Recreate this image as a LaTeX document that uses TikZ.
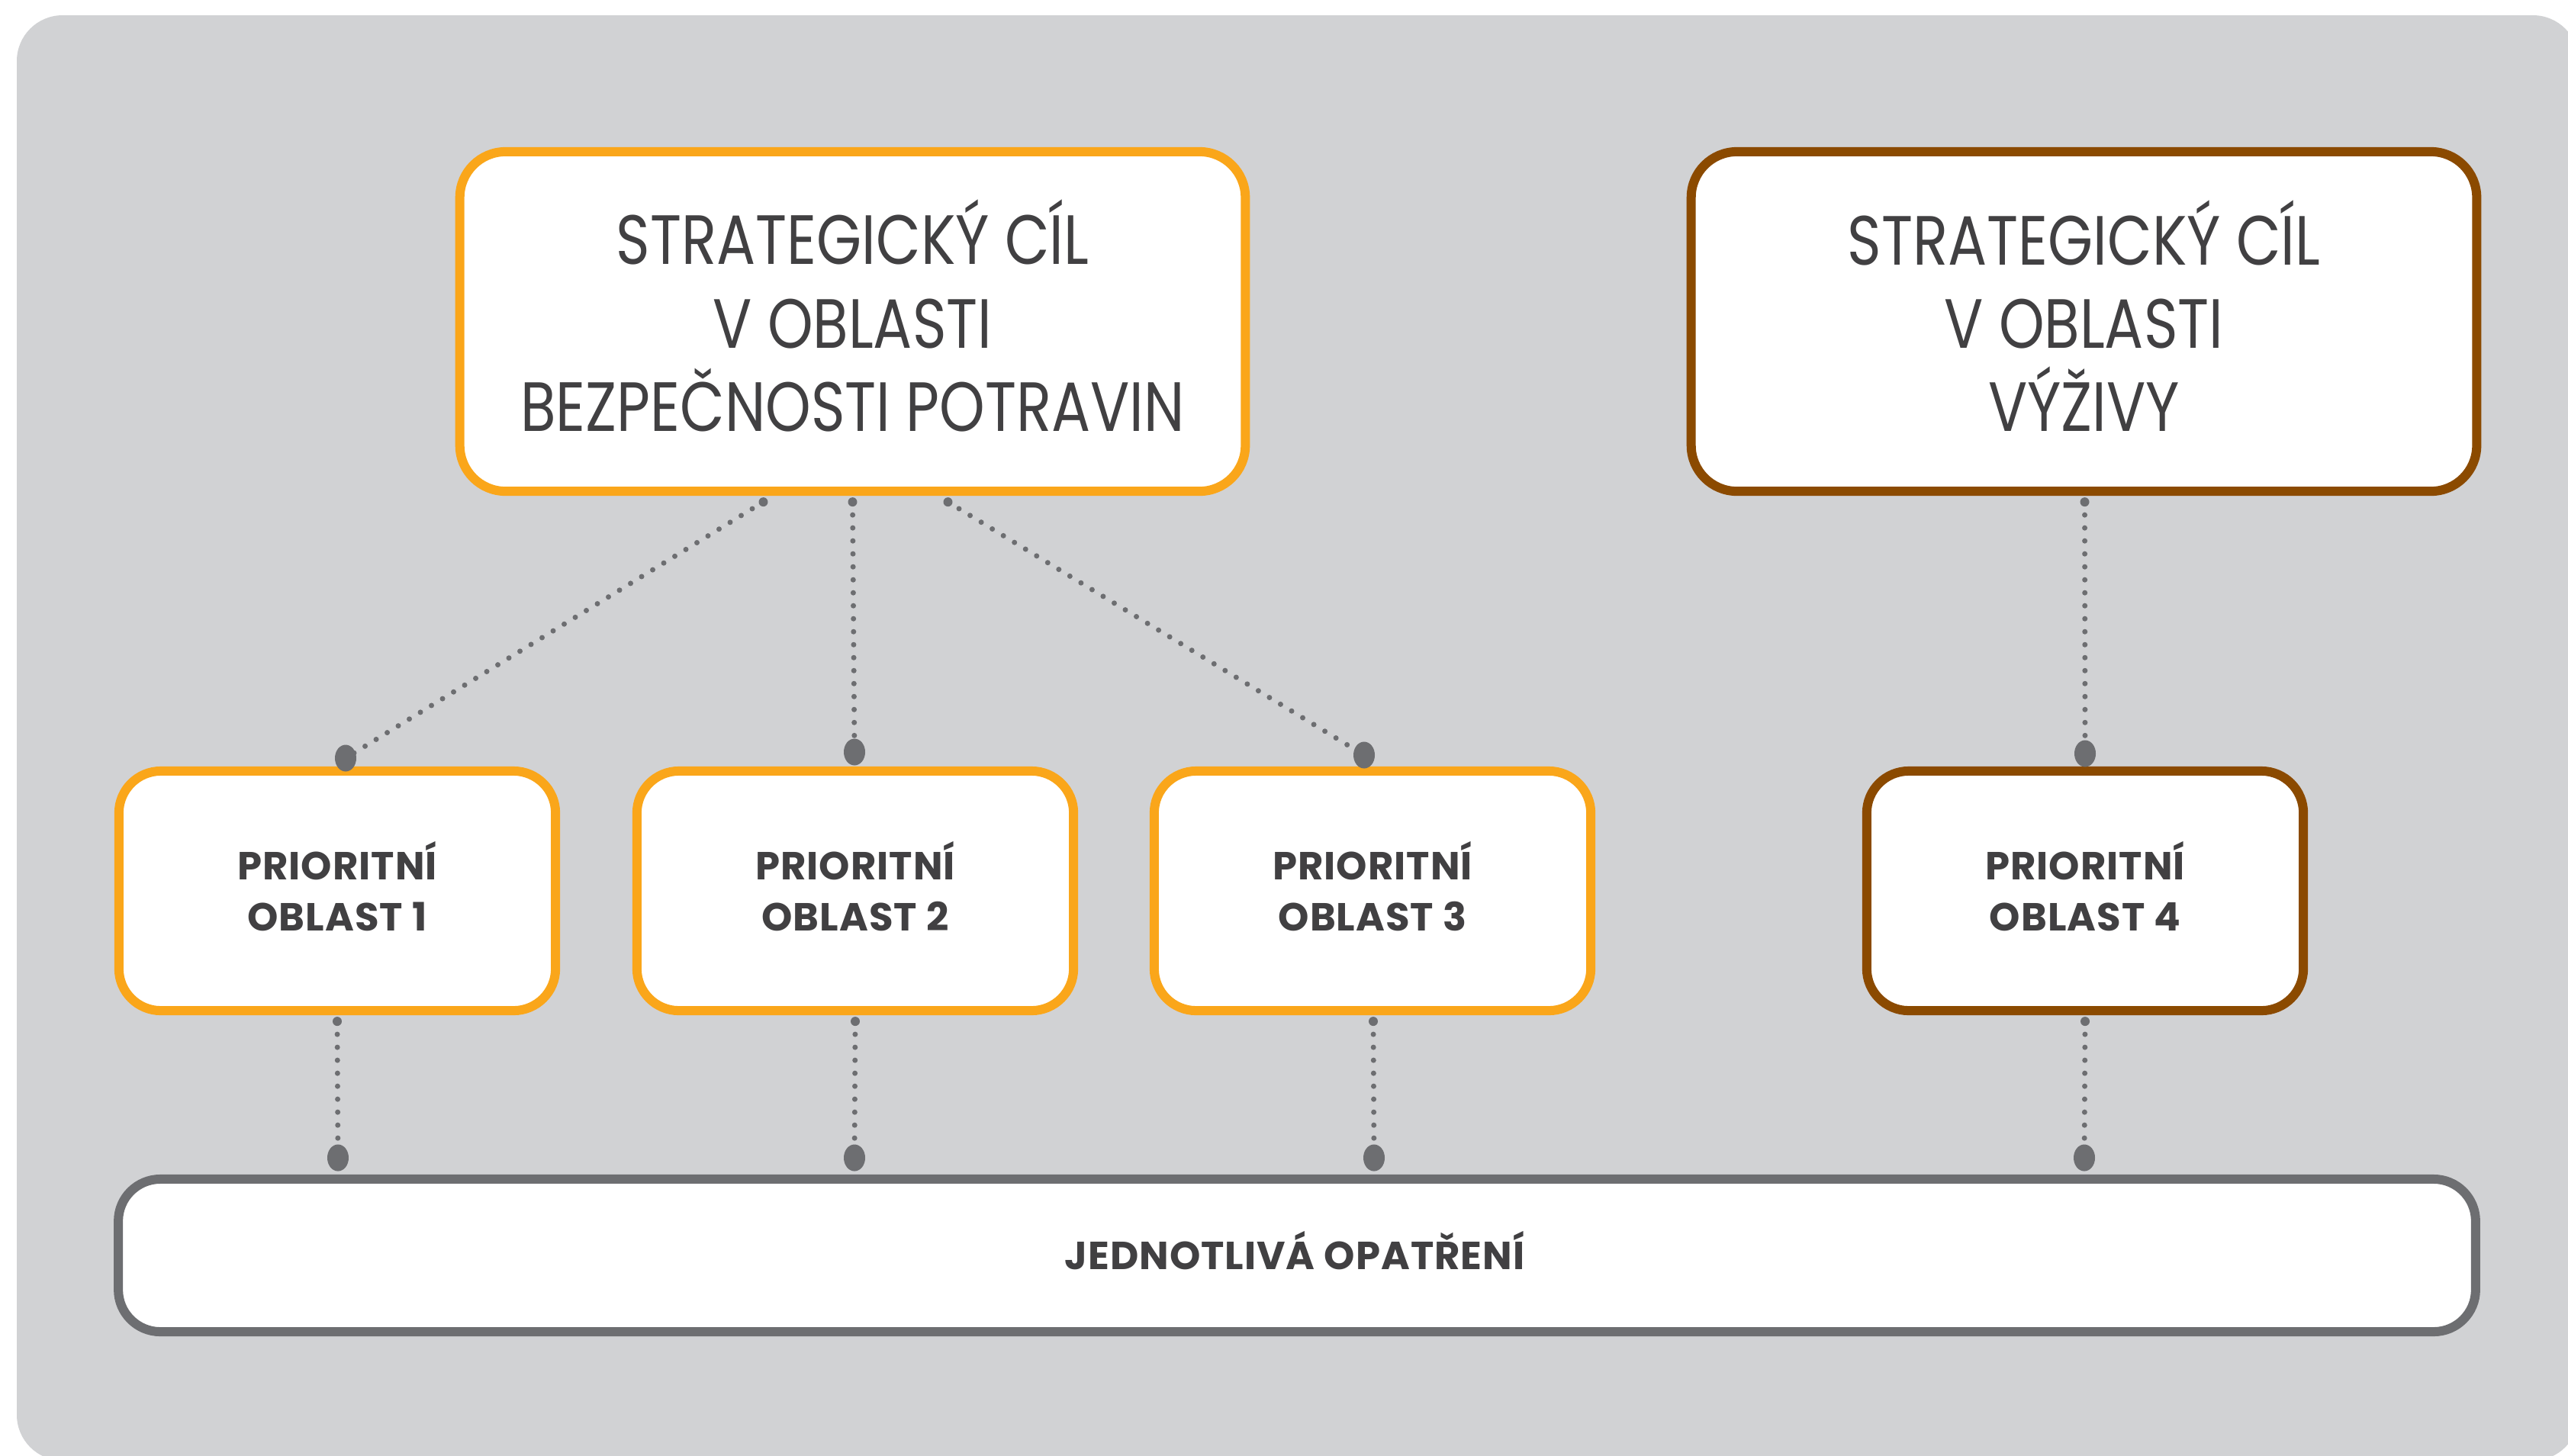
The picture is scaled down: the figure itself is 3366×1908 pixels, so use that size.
\documentclass[tikz,border=0pt]{standalone}
\usepackage{fontspec}
\usetikzlibrary{calc,shapes.geometric}
\newfontfamily\topfont[FakeStretch=0.83]{Poppins}
\newfontfamily\boxfont[LetterSpace=2]{Poppins}
\definecolor{bggray}{RGB}{209,210,212}
\definecolor{orng}{RGB}{250,166,26}
\definecolor{brwn}{RGB}{139,74,0}
\definecolor{bargray}{RGB}{109,110,113}
\definecolor{txt}{RGB}{65,64,66}
\definecolor{dotc}{RGB}{109,110,113}
\begin{document}
\begin{tikzpicture}[x=0.01cm,y=-0.01cm,
  goalbox/.style={draw, line width=0.12cm, rounded corners=0.6cm, fill=white,
    minimum width=10.29cm, minimum height=4.45cm, inner sep=0pt},
  goaltext/.style={inner sep=0pt, text=txt, align=center,
    font=\topfont\fontsize{26}{31.1}\selectfont},
  areabox/.style={draw, line width=0.12cm, rounded corners=0.55cm, fill=white,
    minimum width=5.72cm, minimum height=3.14cm, inner sep=0pt},
  areatext/.style={inner sep=0pt, text=txt, align=center,
    font=\boxfont\bfseries\fontsize{14.6}{19.06}\selectfont},
  joint/.style={ellipse, fill=dotc, minimum width=0.28cm, minimum height=0.35cm, inner sep=0pt},
  startjoint/.style={circle, fill=dotc, minimum size=0.12cm, inner sep=0pt},
  link/.style={draw=dotc, line width=0.07cm, line cap=round, dash pattern=on 0pt off 0.17cm}]
\useasboundingbox (0,0) rectangle (3366,1908);
\begin{scope}
\clip (0,0) rectangle (3366,1908);
\fill[bggray, rounded corners=0.6cm] (22,20) rectangle (3380,1915);
\end{scope}
% goals
\node[goalbox, draw=orng] (g1) at (1117.5,421.5) {};
\node[goaltext] (g1t) at (1117.5,414) {STRATEGICKÝ CÍL\\V OBLASTI\\BEZPEČNOSTI POTRAVIN};
\node[goalbox, draw=brwn] (g2) at (2731.5,421.5) {};
\node[goaltext] (g2t) at (2731.5,414) {STRATEGICKÝ CÍL\\V OBLASTI\\VÝŽIVY};
% areas
\node[areabox, draw=orng] (a1) at (442,1168) {};
\node[areabox, draw=orng] (a2) at (1121,1168) {};
\node[areabox, draw=orng] (a3) at (1799,1168) {};
\node[areabox, draw=brwn] (a4) at (2733,1168) {};
\node[areatext] (a1t) at (442,1162) {PRIORITNÍ\\OBLAST 1};
\node[areatext] (a2t) at (1121,1162) {PRIORITNÍ\\OBLAST 2};
\node[areatext] (a3t) at (1799,1162) {PRIORITNÍ\\OBLAST 3};
\node[areatext] (a4t) at (2733,1162) {PRIORITNÍ\\OBLAST 4};
% bar
\node[draw=bargray, line width=0.12cm, rounded corners=0.55cm, fill=white,
  minimum width=30.88cm, minimum height=2.0cm, inner sep=0pt] (bar) at (1700,1646) {};
\node[areatext] (bart) at (1697,1640) {JEDNOTLIVÁ OPATŘENÍ};
% joints on top of areas
\node[joint] (j1) at (453,994) {};
\node[joint] (j2) at (1120,986) {};
\node[joint] (j3) at (1788,990) {};
\node[joint] (j4) at (2733,988) {};
% joints on bar
\node[joint] (k1) at (443,1518) {};
\node[joint] (k2) at (1120,1518) {};
\node[joint] (k3) at (1801,1518) {};
\node[joint] (k4) at (2732,1518) {};
% start joints
\node[startjoint] (s1) at ($(g1.south)+(-117,8)$) {};
\node[startjoint] (s2) at ($(g1.south)+(0,8)$) {};
\node[startjoint] (s3) at ($(g1.south)+(125,8)$) {};
\node[startjoint] (s4) at ($(g2.south)+(1,8)$) {};
\node[startjoint] (r1) at ($(a1.south)+(0,8)$) {};
\node[startjoint] (r2) at ($(a2.south)+(0,8)$) {};
\node[startjoint] (r3) at ($(a3.south)+(1,8)$) {};
\node[startjoint] (r4) at ($(a4.south)+(0,8)$) {};
% links
\draw[link] (s1.center) -- (j1.center);
\draw[link] (s2.center) -- (j2.center);
\draw[link] (s3.center) -- (j3.center);
\draw[link] (s4.center) -- (j4.center);
\draw[link] (r1.center) -- (k1.center);
\draw[link] (r2.center) -- (k2.center);
\draw[link] (r3.center) -- (k3.center);
\draw[link] (r4.center) -- (k4.center);
\end{tikzpicture}
\end{document}
